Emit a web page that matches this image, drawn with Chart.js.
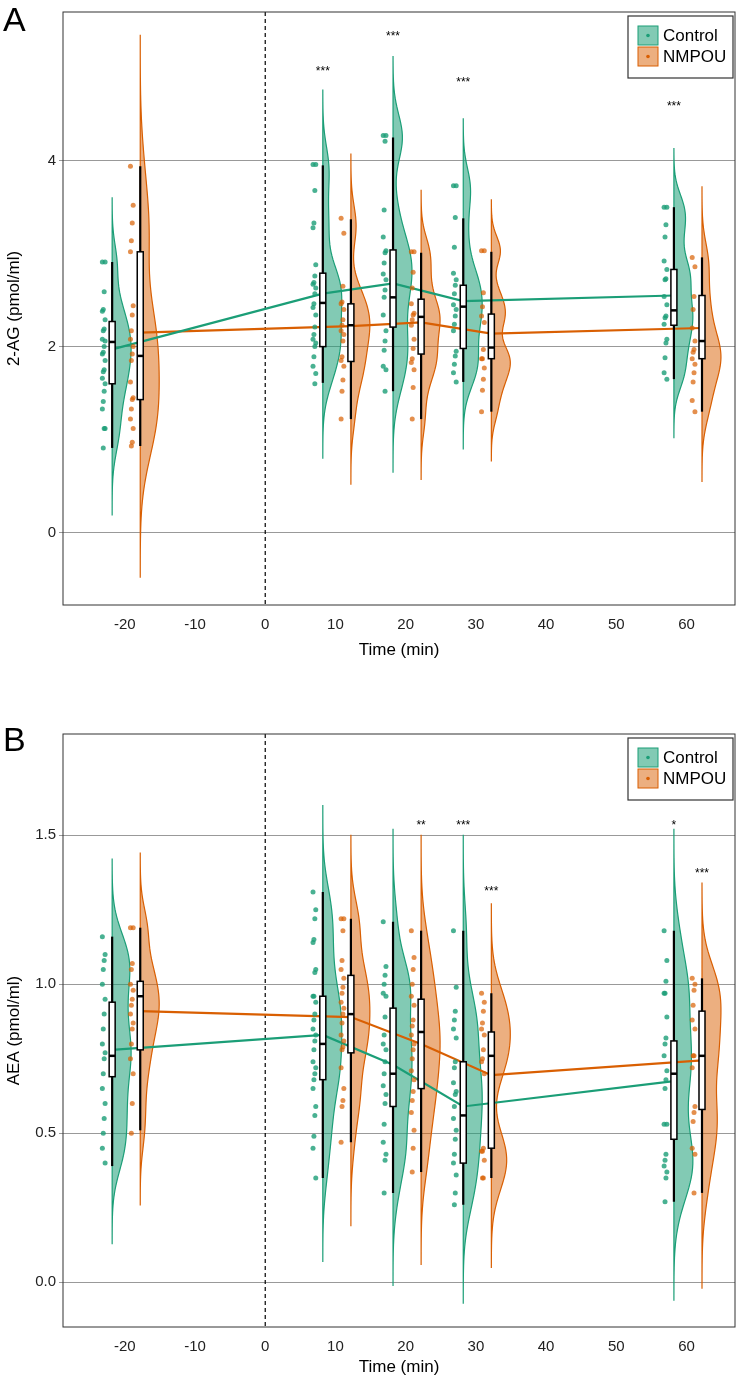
<!DOCTYPE html>
<html>
<head>
<meta charset="utf-8">
<script src="https://cdn.jsdelivr.net/npm/chart.js@4.4.1/dist/chart.umd.min.js"></script>
<style>
  body { margin: 0; background: #fff; font-family: Arial, "Liberation Sans", sans-serif; }
  .wrap { position: absolute; left: 0; width: 755px; }
  .letter { position: absolute; left: 3px; font-size: 34px; color: #000; font-family: Arial, "Liberation Sans", sans-serif; }
</style>
</head>
<body>
<div class="wrap" style="top:0;height:665px"><canvas id="chart_a"></canvas></div>
<div class="wrap" style="top:722px;height:660px"><canvas id="chart_b"></canvas></div>
<div class="letter" style="top:0px">A</div>
<div class="letter" style="top:720px">B</div>
<script>
const times = [-20, 10, 20, 30, 60];
const groupLabels = ['Control', 'NMPOU'];

// Panel A: 2-AG
const aCtrlDots = [
  [2.91, 2.91, 2.59, 2.40, 2.38, 2.29, 2.19, 2.17, 2.08, 2.06, 2.00, 1.94, 1.92, 1.85, 1.75, 1.73, 1.66, 1.60, 1.52, 1.41, 1.33, 1.12, 1.12, 0.91],
  [3.96, 3.96, 3.68, 3.33, 3.28, 2.88, 2.76, 2.69, 2.67, 2.63, 2.57, 2.46, 2.42, 2.34, 2.21, 2.13, 2.08, 2.04, 2.00, 1.89, 1.79, 1.71, 1.60],
  [4.27, 4.27, 4.21, 3.47, 3.18, 3.03, 3.01, 2.90, 2.78, 2.72, 2.61, 2.53, 2.34, 2.17, 2.06, 1.96, 1.79, 1.75, 1.52],
  [3.73, 3.73, 3.39, 3.07, 2.79, 2.72, 2.66, 2.57, 2.45, 2.40, 2.33, 2.24, 2.17, 1.95, 1.90, 1.81, 1.72, 1.62],
  [3.50, 3.50, 3.31, 3.18, 2.92, 2.83, 2.73, 2.72, 2.54, 2.45, 2.33, 2.31, 2.24, 2.08, 2.04, 1.88, 1.72, 1.65]
];
const aCtrlBox = [[0.91, 1.60, 2.05, 2.27, 2.91], [1.61, 2.00, 2.47, 2.79, 3.95], [1.52, 2.21, 2.53, 3.04, 4.25], [1.62, 1.98, 2.43, 2.66, 3.38], [1.65, 2.23, 2.39, 2.83, 3.50]];
const aCtrlViolin = [[0.19, 3.60], [0.80, 4.76], [0.65, 5.12], [0.90, 4.45], [1.02, 4.13]];
const aCtrlMean = [1.97, 2.57, 2.68, 2.49, 2.55];

const aNmpDots = [
  [3.94, 3.52, 3.33, 3.14, 3.02, 2.44, 2.34, 2.17, 2.08, 2.00, 1.92, 1.85, 1.62, 1.45, 1.43, 1.33, 1.22, 1.12, 0.97, 0.93],
  [3.38, 3.22, 2.65, 2.48, 2.46, 2.40, 2.29, 2.23, 2.17, 2.13, 2.06, 1.89, 1.85, 1.79, 1.64, 1.52, 1.22],
  [3.02, 3.02, 2.80, 2.63, 2.46, 2.36, 2.34, 2.29, 2.23, 2.08, 1.98, 1.87, 1.83, 1.75, 1.56, 1.22],
  [3.03, 3.03, 2.58, 2.43, 2.33, 2.26, 1.97, 1.87, 1.87, 1.77, 1.65, 1.53, 1.30],
  [2.96, 2.86, 2.54, 2.40, 2.20, 2.06, 1.97, 1.94, 1.87, 1.81, 1.72, 1.62, 1.42, 1.30]
];
const aNmpBox = [[0.93, 1.43, 1.90, 3.02, 3.94], [1.22, 1.84, 2.23, 2.46, 3.37], [1.22, 1.92, 2.32, 2.51, 3.01], [1.30, 1.87, 1.99, 2.35, 3.02], [1.30, 1.87, 2.06, 2.55, 2.96]];
const aNmpViolin = [[-0.48, 5.35], [0.52, 4.07], [0.57, 3.68], [0.77, 3.58], [0.55, 3.72]];
const aNmpMean = [2.15, 2.22, 2.26, 2.14, 2.20];

const aStars = [['***', 0, 1, 5.02], ['***', 0, 2, 5.40], ['***', 0, 3, 4.90], ['***', 0, 4, 4.64]];

// Panel B: AEA
const bCtrlDots = [
  [1.16, 1.10, 1.08, 1.05, 1.00, 0.95, 0.90, 0.85, 0.80, 0.77, 0.75, 0.70, 0.65, 0.60, 0.55, 0.50, 0.45, 0.40],
  [1.31, 1.25, 1.22, 1.15, 1.14, 1.05, 1.04, 0.96, 0.96, 0.94, 0.90, 0.88, 0.85, 0.83, 0.81, 0.78, 0.74, 0.72, 0.70, 0.68, 0.65, 0.59, 0.56, 0.49, 0.45, 0.35],
  [1.21, 1.06, 1.03, 1.00, 0.97, 0.96, 0.89, 0.83, 0.80, 0.78, 0.74, 0.70, 0.66, 0.63, 0.60, 0.53, 0.47, 0.43, 0.41, 0.30],
  [1.18, 0.99, 0.91, 0.88, 0.85, 0.82, 0.74, 0.72, 0.67, 0.64, 0.63, 0.59, 0.55, 0.51, 0.48, 0.43, 0.40, 0.36, 0.30, 0.26],
  [1.18, 1.08, 1.01, 0.97, 0.97, 0.89, 0.82, 0.80, 0.76, 0.71, 0.68, 0.65, 0.53, 0.53, 0.43, 0.41, 0.39, 0.37, 0.35, 0.27]
];
const bCtrlBox = [[0.39, 0.69, 0.76, 0.94, 1.16], [0.35, 0.68, 0.80, 0.96, 1.31], [0.30, 0.59, 0.70, 0.92, 1.21], [0.26, 0.40, 0.56, 0.74, 1.18], [0.27, 0.48, 0.70, 0.81, 1.18]];
const bCtrlViolin = [[0.13, 1.42], [0.07, 1.60], [-0.01, 1.52], [-0.07, 1.50], [-0.06, 1.52]];
const bCtrlMean = [0.78, 0.83, 0.73, 0.59, 0.675];

const bNmpDots = [
  [1.19, 1.19, 1.07, 1.05, 1.00, 0.98, 0.95, 0.93, 0.90, 0.87, 0.85, 0.80, 0.75, 0.70, 0.60, 0.50],
  [1.22, 1.22, 1.18, 1.08, 1.05, 1.02, 0.99, 0.97, 0.94, 0.92, 0.90, 0.87, 0.83, 0.81, 0.79, 0.78, 0.72, 0.65, 0.61, 0.59, 0.47],
  [1.18, 1.09, 1.05, 1.00, 0.96, 0.93, 0.88, 0.86, 0.83, 0.80, 0.78, 0.75, 0.71, 0.68, 0.64, 0.61, 0.57, 0.51, 0.45, 0.37],
  [0.97, 0.94, 0.91, 0.87, 0.85, 0.83, 0.78, 0.75, 0.74, 0.70, 0.45, 0.44, 0.44, 0.41, 0.35, 0.35],
  [1.02, 1.00, 0.98, 0.93, 0.88, 0.85, 0.76, 0.76, 0.72, 0.59, 0.57, 0.54, 0.45, 0.43, 0.30]
];
const bNmpBox = [[0.51, 0.78, 0.96, 1.01, 1.19], [0.47, 0.77, 0.90, 1.03, 1.22], [0.37, 0.65, 0.84, 0.95, 1.18], [0.35, 0.45, 0.76, 0.84, 0.97], [0.30, 0.58, 0.76, 0.91, 1.02]];
const bNmpViolin = [[0.26, 1.44], [0.19, 1.50], [0.06, 1.50], [0.05, 1.27], [-0.02, 1.34]];
const bNmpMean = [0.91, 0.89, 0.80, 0.695, 0.745];

const bStars = [['**', 1, 2, 1.55], ['***', 0, 3, 1.55], ['***', 1, 3, 1.33], ['*', 0, 4, 1.55], ['***', 1, 4, 1.39]];

const colours = ['#1b9e77', '#d95f02'];
const fills = ['rgba(27,158,119,0.55)', 'rgba(217,95,2,0.5)'];
const dotColours = ['rgba(27,158,119,0.8)', 'rgba(217,95,2,0.7)'];
const groupOffset = [-1.8, 2.2];

function boxX(g, i) { return times[i] + groupOffset[g]; }

function dotPoints(g, dots) {
  const pts = [];
  dots.forEach((arr, i) => {
    arr.forEach((v, k) => {
      pts.push({x: boxX(g, i) - 1.2 + ((k * 3) % 4 - 1.5) * 0.13, y: v});
    });
  });
  return pts;
}

function kde(dots, lo, hi) {
  const bw = ((hi - Math.max(...dots)) + (Math.min(...dots) - lo)) / 7;
  const out = [];
  for (let s = 0; s <= 100; s++) {
    const y = lo + (hi - lo) * s / 100;
    let d = 0;
    dots.forEach((v) => { d += Math.exp(-0.5 * Math.pow((y - v) / bw, 2)); });
    out.push([y, d / (dots.length * bw)]);
  }
  return out;
}

function makePlugin(groups, stars, showLegend) {
  return {
    id: 'raincloud',
    beforeDatasetsDraw(chart) {
      const ctx = chart.ctx, xs = chart.scales.x, ys = chart.scales.y, a = chart.chartArea;
      ctx.save();
      ctx.beginPath();
      ctx.rect(a.left, a.top, a.right - a.left, a.bottom - a.top);
      ctx.clip();
      ctx.setLineDash([4, 3]);
      ctx.strokeStyle = '#000';
      ctx.lineWidth = 1.2;
      ctx.beginPath();
      ctx.moveTo(xs.getPixelForValue(0), a.top);
      ctx.lineTo(xs.getPixelForValue(0), a.bottom);
      ctx.stroke();
      ctx.setLineDash([]);
      groups.forEach((grp, g) => {
        grp.dots.forEach((arr, i) => {
          const dens = kde(arr, grp.violin[i][0], grp.violin[i][1]);
          const maxD = Math.max(...dens.map((p) => p[1]));
          const x0 = xs.getPixelForValue(boxX(g, i));
          const w = xs.getPixelForValue(2.7) - xs.getPixelForValue(0);
          ctx.beginPath();
          ctx.moveTo(x0, ys.getPixelForValue(dens[0][0]));
          dens.forEach((p) => ctx.lineTo(x0 + w * p[1] / maxD, ys.getPixelForValue(p[0])));
          ctx.lineTo(x0, ys.getPixelForValue(dens[dens.length - 1][0]));
          ctx.closePath();
          ctx.fillStyle = fills[g];
          ctx.fill();
          ctx.strokeStyle = colours[g];
          ctx.lineWidth = 1.2;
          ctx.stroke();
        });
      });
      ctx.restore();
    },
    afterDatasetsDraw(chart) {
      const ctx = chart.ctx, xs = chart.scales.x, ys = chart.scales.y, a = chart.chartArea;
      ctx.save();
      groups.forEach((grp, g) => {
        grp.box.forEach((b, i) => {
          const x0 = xs.getPixelForValue(boxX(g, i));
          ctx.strokeStyle = '#000';
          ctx.lineWidth = 2.2;
          ctx.beginPath();
          ctx.moveTo(x0, ys.getPixelForValue(b[0]));
          ctx.lineTo(x0, ys.getPixelForValue(b[4]));
          ctx.stroke();
          const top = ys.getPixelForValue(b[3]), bot = ys.getPixelForValue(b[1]);
          ctx.fillStyle = '#fff';
          ctx.fillRect(x0 - 3, top, 6, bot - top);
          ctx.lineWidth = 1.5;
          ctx.strokeRect(x0 - 3, top, 6, bot - top);
          ctx.lineWidth = 2.5;
          ctx.beginPath();
          ctx.moveTo(x0 - 3, ys.getPixelForValue(b[2]));
          ctx.lineTo(x0 + 3, ys.getPixelForValue(b[2]));
          ctx.stroke();
        });
      });
      ctx.fillStyle = '#000';
      ctx.font = '12px Arial, "Liberation Sans", sans-serif';
      ctx.textAlign = 'center';
      stars.forEach((s) => {
        ctx.fillText(s[0], xs.getPixelForValue(boxX(s[1], s[2])), ys.getPixelForValue(s[3]) + 9);
      });
      ctx.strokeStyle = '#333';
      ctx.lineWidth = 1;
      ctx.strokeRect(a.left, a.top, a.right - a.left, a.bottom - a.top);
      if (showLegend) {
        const lx = a.right - 107, ly = a.top + 4;
        ctx.fillStyle = '#fff';
        ctx.fillRect(lx, ly, 105, 62);
        ctx.strokeStyle = '#333';
        ctx.lineWidth = 1.2;
        ctx.strokeRect(lx, ly, 105, 62);
        ctx.lineWidth = 1;
        ctx.textAlign = 'left';
        ctx.textBaseline = 'middle';
        ctx.font = '17px Arial, "Liberation Sans", sans-serif';
        groupLabels.forEach((lab, g) => {
          const ky = ly + 10 + g * 21;
          ctx.fillStyle = fills[g];
          ctx.fillRect(lx + 10, ky, 20, 19);
          ctx.strokeStyle = colours[g];
          ctx.strokeRect(lx + 10, ky, 20, 19);
          ctx.fillStyle = colours[g];
          ctx.beginPath();
          ctx.arc(lx + 20, ky + 9.5, 1.8, 0, Math.PI * 2);
          ctx.fill();
          ctx.fillStyle = '#000';
          ctx.fillText(lab, lx + 35, ky + 10);
        });
      }
      ctx.restore();
    }
  };
}

function renderPanel(id, groups, stars, yMin, yMax, yStep, yTitle, xHeight) {
  const datasets = [];
  groups.forEach((grp, g) => {
    datasets.push({
      type: 'scatter', label: groupLabels[g] + ' dots',
      data: dotPoints(g, grp.dots),
      pointRadius: 2.5, pointBorderWidth: 0,
      backgroundColor: dotColours[g]
    });
  });
  groups.forEach((grp, g) => {
    datasets.push({
      type: 'line', label: groupLabels[g],
      data: grp.mean.map((v, i) => ({x: boxX(g, i), y: v})),
      borderColor: colours[g], borderWidth: 2.2, pointRadius: 0, tension: 0, fill: false
    });
  });
  new Chart(document.getElementById(id).getContext('2d'), {
    type: 'scatter',
    data: {datasets: datasets},
    options: {
      responsive: true,
      maintainAspectRatio: false,
      animation: false,
      layout: {padding: {top: 5, right: 20, left: 0, bottom: 0}},
      plugins: {legend: {display: false}, tooltip: {enabled: false}},
      scales: {
        x: {
          type: 'linear', min: -28.8, max: 66.9,
          afterBuildTicks: (s) => { s.ticks = [-20, -10, 0, 10, 20, 30, 40, 50, 60].map((v) => ({value: v})); },
          afterFit: (s) => { s.height = xHeight; },
          grid: {display: false},
          border: {display: false},
          ticks: {color: '#222', font: {size: 15}},
          title: {display: true, text: 'Time (min)', color: '#000', font: {size: 17}, padding: {top: 2}}
        },
        y: {
          min: yMin, max: yMax,
          afterBuildTicks: (s) => {
            const t = [];
            for (let v = 0; v <= yMax; v += yStep) t.push({value: Math.round(v * 100) / 100});
            s.ticks = t;
          },
          afterFit: (s) => { s.width = 63; },
          grid: {color: '#999', lineWidth: 1, drawTicks: true, tickLength: 4},
          border: {display: false},
          ticks: {color: '#222', font: {size: 15},
                  callback: (v) => yStep < 1 ? v.toFixed(1) : String(v)},
          title: {display: true, text: yTitle, color: '#000', font: {size: 17}}
        }
      }
    },
    plugins: [makePlugin(groups, stars, true)]
  });
}

renderPanel('chart_a', [
  {dots: aCtrlDots, box: aCtrlBox, violin: aCtrlViolin, mean: aCtrlMean},
  {dots: aNmpDots, box: aNmpBox, violin: aNmpViolin, mean: aNmpMean}
], aStars, -0.78, 5.6, 2, '2-AG (pmol/ml)', 60);

renderPanel('chart_b', [
  {dots: bCtrlDots, box: bCtrlBox, violin: bCtrlViolin, mean: bCtrlMean},
  {dots: bNmpDots, box: bNmpBox, violin: bNmpViolin, mean: bNmpMean}
], bStars, -0.15, 1.84, 0.5, 'AEA (pmol/ml)', 55);
</script>
</body>
</html>
